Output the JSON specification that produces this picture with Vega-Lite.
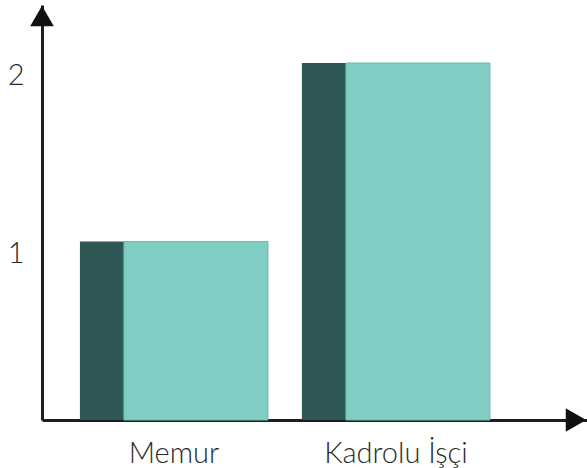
{
  "$schema": "https://vega.github.io/schema/vega-lite/v6.json",
  "width": 545,
  "height": 415,
  "autosize": "none",
  "padding": {"left": 42, "top": 5, "right": 0, "bottom": 48},
  "background": "white",
  "config": {
    "view": {"stroke": null},
    "font": "Lato",
    "axis": {
      "grid": false,
      "ticks": false,
      "domainColor": "#1e1e1e",
      "domainWidth": 3,
      "labelFont": "Lato",
      "labelFontWeight": 300,
      "labelFontSize": 29,
      "labelColor": "#2a2a2a",
      "title": null
    }
  },
  "layer": [
    {
      "data": {"values": [
        {"job": "Memur", "value": 1},
        {"job": "Kadrolu İşçi", "value": 2}
      ]},
      "layer": [
        {
          "mark": {"type": "bar", "color": "#2f5755", "cornerRadius": 0},
          "encoding": {
            "x": {"field": "job", "type": "nominal", "sort": null,
              "scale": {"paddingInner": 0.153, "paddingOuter": 0.304, "align": 0.281},
              "axis": {"labelAngle": 0, "labelPadding": 19, "labelBaseline": "top"}},
            "y": {"field": "value", "type": "quantitative",
              "scale": {"domain": [0, 2.325], "nice": false, "zero": true},
              "axis": {"values": [1, 2], "format": "d", "labelPadding": 18, "labelOffset": 12}}
          }
        },
        {
          "mark": {"type": "bar", "color": "#80cdc4", "width": 144, "xOffset": 22, "stroke": "#6bbdb4", "strokeWidth": 1},
          "encoding": {
            "x": {"field": "job", "type": "nominal", "sort": null},
            "y": {"field": "value", "type": "quantitative"}
          }
        }
      ]
    },
    {
      "data": {"values": [
        {"ax": 0, "ay": 2.263, "dir": "triangle-up"},
        {"ax": 1, "ay": 0, "dir": "triangle-right"}
      ]},
      "mark": {"type": "point", "filled": true, "opacity": 1, "color": "#111111", "size": 560},
      "encoding": {
        "x": {"field": "ax", "type": "quantitative", "scale": {"domain": [0, 1], "range": [0, 534]}, "axis": null},
        "y": {"field": "ay", "type": "quantitative"},
        "shape": {"field": "dir", "type": "nominal", "scale": null, "legend": null}
      }
    }
  ],
  "resolve": {"scale": {"x": "independent"}}
}
